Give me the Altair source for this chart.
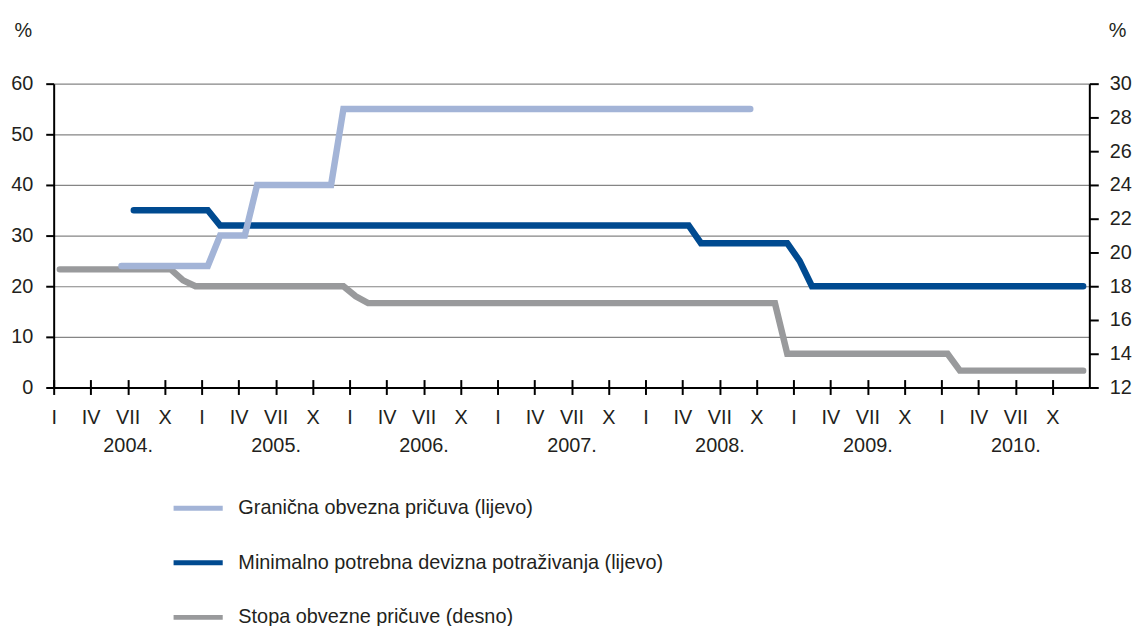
import json
import altair as alt
import pandas as pd

# ---- data (month "YYYY-MM", value) ----
lb_months = ["2004-06", "2005-01", "2005-02", "2005-04", "2005-05", "2005-11", "2005-12", "2008-09"]
lb_values = [24, 24, 30, 30, 40, 40, 55, 55]

db_months = ["2004-07", "2005-01", "2005-02", "2008-04", "2008-05", "2008-12", "2009-01", "2009-02", "2010-12"]
db_values = [35, 35, 32, 32, 28.5, 28.5, 25, 20, 20]

gr_months = ["2004-01", "2004-10", "2004-11", "2004-12", "2005-12", "2006-01", "2006-02",
             "2008-11", "2008-12", "2010-01", "2010-02", "2010-12"]
gr_values = [19, 19, 18.35, 18, 18, 17.4, 17, 17, 14, 14, 13, 13]

series_names = [
    "Granična obvezna pričuva (lijevo)",
    "Minimalno potrebna devizna potraživanja (lijevo)",
    "Stopa obvezne pričuve (desno)",
]
series_colors = ["#a3b4d7", "#004a90", "#999a9c"]

quarter_labels = ["I", "IV", "VII", "X"]
year_labels = ["2004.", "2005.", "2006.", "2007.", "2008.", "2009.", "2010."]
left_ticks = [0, 10, 20, 30, 40, 50, 60]
right_ticks = [12, 14, 16, 18, 20, 22, 24, 26, 28, 30]

FONT = "Liberation Sans, Arial, sans-serif"
TXT = "#231f20"
FS = 20


def month_pos(s):
    y, m = s.split("-")
    return (int(y) - 2004) * 12 + (int(m) - 1) + 0.5


def frame(months, values, name):
    return pd.DataFrame({"x": [month_pos(m) for m in months], "v": values, "series": name})


df_lb = frame(lb_months, lb_values, series_names[0])
df_db = frame(db_months, db_values, series_names[1])
df_gr = frame(gr_months, gr_values, series_names[2])

label_expr = (
    f"datum.value % 12 == 6 ? ['VII', {json.dumps(year_labels)}[floor(datum.value / 12)]] : "
    f"{json.dumps(quarter_labels)}[floor((datum.value % 12) / 3)]"
)

x_enc = alt.X(
    "x:Q",
    scale=alt.Scale(domain=[0, 84], nice=False, zero=False),
    axis=alt.Axis(
        values=list(range(0, 84, 3)),
        labelExpr=label_expr,
        title=None,
        domain=False,
        offset=-8,
        tickSize=15,
        tickWidth=2,
        tickColor="black",
        labelPadding=13,
        labelBaseline="top",
        labelLineHeight=28,
        labelOverlap=False,
        labelFlush=False,
        labelBound=False,
        grid=False,
    ),
)

color_enc = alt.Color(
    "series:N",
    scale=alt.Scale(domain=series_names, range=series_colors),
    legend=alt.Legend(
        title=None,
        orient="none",
        legendX=118,
        legendY=400,
        direction="vertical",
        symbolType="stroke",
        symbolSize=2450,
        symbolStrokeWidth=5,
        labelFontSize=FS,
        labelFont=FONT,
        labelColor=TXT,
        labelOffset=13,
        labelLimit=0,
        rowPadding=17,
        padding=0,
    ),
)

left_y = alt.Y(
    "v:Q",
    scale=alt.Scale(domain=[0, 60], nice=False, zero=False),
    axis=alt.Axis(
        orient="left",
        values=left_ticks,
        title="%",
        titleAngle=0,
        titleX=-31,
        titleY=-54,
        titleAlign="center",
        titleBaseline="middle",
        titleFontSize=FS,
        titleFontWeight="normal",
        titleFont=FONT,
        titleColor=TXT,
        grid=True,
        gridColor={"condition": {"test": "datum.value === 0", "value": "black"}, "value": "#858585"},
        gridWidth={"condition": {"test": "datum.value === 0", "value": 2}, "value": 1.2},
        domainColor="black",
        domainWidth=2,
        tickColor="black",
        tickWidth=2,
        tickSize=8,
        labelPadding=13,
        labelFontSize=FS,
    ),
)

right_y = alt.Y(
    "v:Q",
    scale=alt.Scale(domain=[12, 30], nice=False, zero=False),
    axis=alt.Axis(
        orient="right",
        values=right_ticks,
        title="%",
        titleAngle=0,
        titleX=28,
        titleY=-54,
        titleAlign="center",
        titleBaseline="middle",
        titleFontSize=FS,
        titleFontWeight="normal",
        titleFont=FONT,
        titleColor=TXT,
        grid=False,
        domainColor="black",
        domainWidth=2,
        tickColor="black",
        tickWidth=2,
        tickSize=9,
        labelPadding=11,
        labelFontSize=FS,
    ),
)

line_style = dict(strokeWidth=6.5, strokeCap="round", strokeJoin="miter")

gray = alt.Chart(df_gr).mark_line(**line_style).encode(x=x_enc, y=right_y, color=color_enc)
dark = alt.Chart(df_db).mark_line(**line_style).encode(x=x_enc, y=left_y, color=color_enc)
light = alt.Chart(df_lb).mark_line(**line_style).encode(x=x_enc, y=left_y, color=color_enc)

chart = (
    alt.layer(gray, alt.layer(dark, light))
    .resolve_scale(y="independent")
    .properties(
        width=1043,
        height=306,
        autosize=alt.AutoSizeParams(type="none"),
        padding={"left": 46, "top": 74, "right": 47, "bottom": 242},
    )
    .configure_view(stroke=None)
    .configure_axis(labelFont=FONT, labelColor=TXT, labelFontSize=FS)
)

chart.save("out.html", embed_options={"renderer": "svg", "actions": False})
